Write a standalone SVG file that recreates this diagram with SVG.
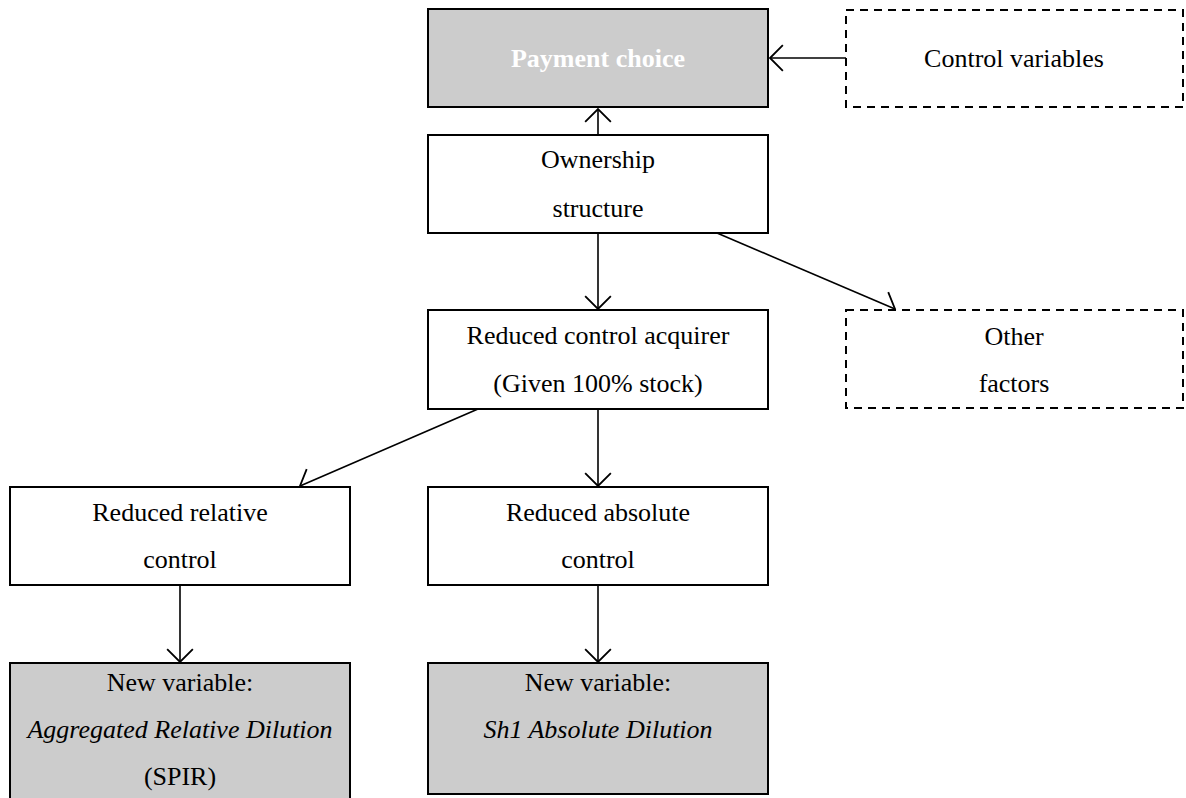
<svg xmlns="http://www.w3.org/2000/svg" width="1186" height="798" viewBox="0 0 1186 798">
<style>
.box{fill:#ffffff;stroke:#000;stroke-width:2}
.gray{fill:#cccccc;stroke:#000;stroke-width:2}
.dash{fill:#ffffff;stroke:#000;stroke-width:2;stroke-dasharray:8 6}
.t{font-family:"Liberation Serif","Times New Roman",serif;font-size:26px;fill:#000;text-anchor:middle}
.it{font-style:italic}
.wb{fill:#ffffff;font-weight:bold}
.edge{stroke:#000;stroke-width:1.6;fill:none;marker-end:url(#to)}
</style>
<defs>
<marker id="to" markerUnits="userSpaceOnUse" markerWidth="30" markerHeight="30" viewBox="-14 -14 16 28" refX="0" refY="0" orient="auto" overflow="visible">
<path d="M -12,-12 Q -2,-2 0,0 Q -2,2 -12,12" fill="none" stroke="#000" stroke-width="1.7"/>
</marker>
</defs>
<g id="connectors">
<line class="edge" x1="598" y1="135" x2="598" y2="109"/>
<line class="edge" x1="846" y1="58" x2="770" y2="58"/>
<line class="edge" x1="598" y1="233" x2="598" y2="309"/>
<line class="edge" x1="717" y1="233" x2="895" y2="309"/>
<line class="edge" x1="478" y1="409" x2="300" y2="486"/>
<line class="edge" x1="598" y1="409" x2="598" y2="486"/>
<line class="edge" x1="180" y1="585" x2="180" y2="662"/>
<line class="edge" x1="598" y1="585" x2="598" y2="662"/>
</g>
<g id="payment">
<rect class="gray" x="428" y="9" width="340" height="98"/>
<text class="t wb" x="598" y="67">Payment choice</text>
</g>
<g id="controlvars">
<rect class="dash" x="846" y="10" width="337" height="97"/>
<text class="t" x="1014" y="67">Control variables</text>
</g>
<g id="ownership">
<rect class="box" x="428" y="135" width="340" height="98"/>
<text class="t" x="598" y="168">Ownership</text>
<text class="t" x="598" y="217">structure</text>
</g>
<g id="reduced">
<rect class="box" x="428" y="310" width="340" height="99"/>
<text class="t" x="598" y="344">Reduced control acquirer</text>
<text class="t" x="598" y="392">(Given 100% stock)</text>
</g>
<g id="other">
<rect class="dash" x="846" y="310" width="337" height="98"/>
<text class="t" x="1014" y="345">Other</text>
<text class="t" x="1014" y="392">factors</text>
</g>
<g id="relative">
<rect class="box" x="10" y="487" width="340" height="98"/>
<text class="t" x="180" y="521">Reduced relative</text>
<text class="t" x="180" y="568">control</text>
</g>
<g id="absolute">
<rect class="box" x="428" y="487" width="340" height="98"/>
<text class="t" x="598" y="521">Reduced absolute</text>
<text class="t" x="598" y="568">control</text>
</g>
<g id="newvar1">
<rect class="gray" x="10" y="663" width="340" height="150"/>
<text class="t" x="180" y="691">New variable:</text>
<text class="t it" x="180" y="738">Aggregated Relative Dilution</text>
<text class="t" x="180" y="785">(SPIR)</text>
</g>
<g id="newvar2">
<rect class="gray" x="428" y="663" width="340" height="131"/>
<text class="t" x="598" y="691">New variable:</text>
<text class="t it" x="598" y="738">Sh1 Absolute Dilution</text>
</g>
</svg>
